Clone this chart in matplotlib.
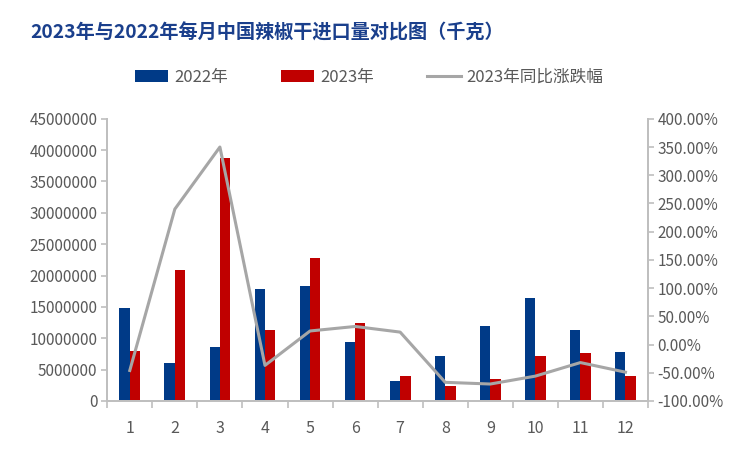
import matplotlib
matplotlib.use('Agg')
from matplotlib import pyplot as plt
from matplotlib.ticker import FuncFormatter, FixedLocator
import numpy as np

plt.rcParams['font.family'] = ['Noto Sans CJK SC', 'DejaVu Sans']

months = ['1', '2', '3', '4', '5', '6', '7', '8', '9', '10', '11', '12']
imports_2022 = [14850000, 6050000, 8600000, 17900000, 18350000, 9400000,
                3200000, 7200000, 12000000, 16450000, 11300000, 7800000]
imports_2023 = [8000000, 20900000, 38800000, 11300000, 22800000, 12450000,
                4000000, 2400000, 3500000, 7200000, 7650000, 4000000]
yoy_pct = [-46, 240, 350, -37, 24, 32, 22, -67, -70, -56, -32, -49]

c_blue = '#003A87'
c_red = '#C00000'
c_line = '#A6A6A6'
c_text = '#595959'
c_axis = '#BFBFBF'

fig = plt.figure(figsize=(7.5, 4.5), dpi=100)
ax = fig.add_axes([0.143, 0.109, 0.721, 0.627])
ax2 = ax.twinx()

x = np.arange(len(months))
w = 0.23
ax.bar(x - w / 2, imports_2022, w, color=c_blue, label='2022年', zorder=2)
ax.bar(x + w / 2, imports_2023, w, color=c_red, label='2023年', zorder=2)
ax2.plot(x, yoy_pct, color=c_line, lw=2.2, label='2023年同比涨跌幅')

ax.set_xlim(-0.5, len(months) - 0.5)
ax.set_ylim(0, 45000000)
ax.set_yticks(np.arange(0, 45000001, 5000000))
ax.yaxis.set_major_formatter(FuncFormatter(lambda v, p: '%d' % v))
ax2.set_ylim(-100, 400)
ax2.set_yticks(np.arange(-100, 401, 50))
ax2.yaxis.set_major_formatter(FuncFormatter(lambda v, p: '%.2f%%' % v))

ax.set_xticks(x)
ax.set_xticklabels(months)
ax.xaxis.set_minor_locator(FixedLocator(np.arange(-0.5, len(months), 1)))
ax.tick_params(axis='x', which='major', length=0, pad=14, labelsize=11.5, colors=c_text)
ax.tick_params(axis='x', which='minor', length=5, color=c_axis, width=1.2)
ax.tick_params(axis='y', length=4, color=c_axis, width=1.2, labelsize=11,
               labelcolor=c_text, pad=3)
ax2.tick_params(axis='y', length=4, color=c_axis, width=1.2, labelsize=11,
                labelcolor=c_text, pad=3)

for a in (ax, ax2):
    a.spines['top'].set_visible(False)
    for s in ('left', 'right', 'bottom'):
        a.spines[s].set_color(c_axis)
        a.spines[s].set_linewidth(1.4)

fig.text(0.04, 0.928, '2023年与2022年每月中国辣椒干进口量对比图（千克）',
         fontsize=13.8, fontweight='bold', color='#1A3F8C', va='center')

h1, l1 = ax.get_legend_handles_labels()
h2, l2 = ax2.get_legend_handles_labels()
fig.legend(h1 + h2, l1 + l2, loc='center', bbox_to_anchor=(0.492, 0.828),
           ncol=3, frameon=False, fontsize=12, labelcolor=c_text,
           handlelength=2.0, handleheight=0.8, columnspacing=3.2, handletextpad=0.35)

fig.savefig('out.png', dpi=100)
